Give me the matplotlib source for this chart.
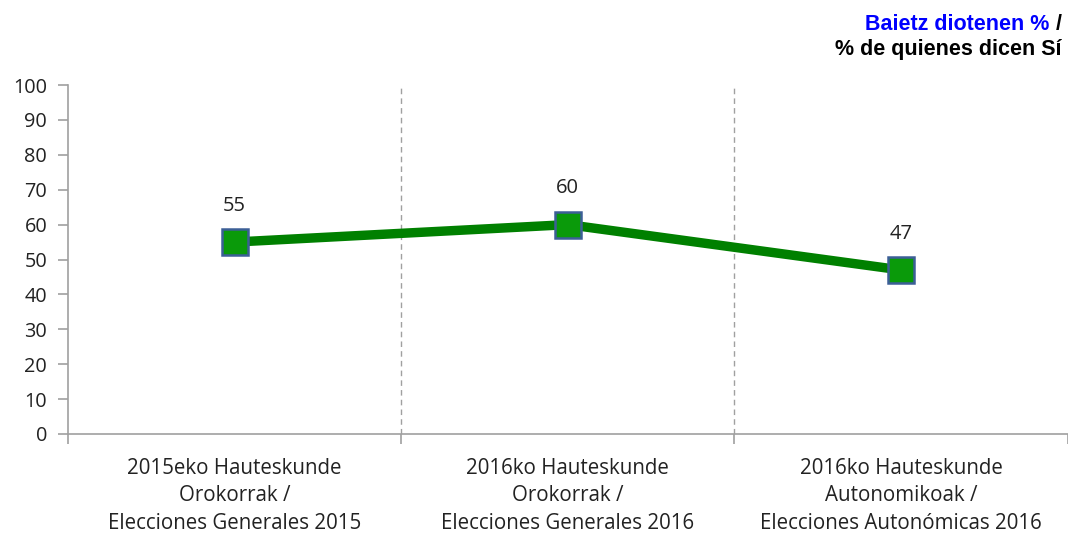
import numpy as np
import matplotlib.pyplot as plt

categories = ['2015eko Hauteskunde\nOrokorrak /\nElecciones Generales 2015',
              '2016ko Hauteskunde\nOrokorrak /\nElecciones Generales 2016',
              '2016ko Hauteskunde\nAutonomikoak /\nElecciones Autonómicas 2016']
values = [55, 60, 47]
yticks = [0, 10, 20, 30, 40, 50, 60, 70, 80, 90, 100]

fig = plt.figure(figsize=(10.68, 5.35), dpi=100)
ax = fig.add_axes([0.0637, 0.1888, 0.936, 0.6523])

x = np.arange(1, len(values) + 1)
ax.plot(x, values, color='#008000', lw=6.8, zorder=3, solid_capstyle='butt')
ax.plot(x, values, ls='none', marker='s', ms=19, mfc='#0A9A0A', mec='#3C5F96', mew=1.8, zorder=4)
for xi, v in zip(x, values):
    ax.annotate(str(v), (xi, v), xytext=(0, 19), textcoords='offset points',
                ha='center', va='bottom', fontsize=14.5, family='Open Sans', color='#222222')

ax.set_xlim(0.5, len(values) + 0.5)
ax.set_ylim(0, 100)
ax.set_yticks(yticks)
ax.set_yticklabels([str(t) for t in yticks], fontsize=14.3, family='Open Sans', color='#222222')

# category boundaries as dashed lines and ticks
bounds = np.arange(0.5, len(values) + 1, 1)
ax.set_xticks(bounds, minor=False)
ax.set_xticklabels([''] * len(bounds))
ax.set_xticks(x, minor=True)
ax.set_xticklabels(categories, minor=True, fontsize=14.8, family='Open Sans', color='#222222',
                   linespacing=1.42)
ax.tick_params(axis='x', which='minor', length=0, pad=17)
ax.tick_params(axis='x', which='major', length=7, color='#A0A0A0', width=1.2)
ax.tick_params(axis='y', length=7, color='#A0A0A0', width=1.2, pad=8)
for b in bounds[1:-1]:
    ax.axvline(b, color='#A0A0A0', lw=1, ls=(0, (4, 3)), zorder=1)

for s in ['top', 'right']:
    ax.spines[s].set_visible(False)
ax.spines['left'].set_color('#A0A0A0')
ax.spines['bottom'].set_color('#A0A0A0')
ax.spines['left'].set_linewidth(1.2)
ax.spines['bottom'].set_linewidth(1.2)

fig.text(0.994, 0.944, 'Baietz diotenen %', color='#0000FF', fontsize=15.5, fontweight='bold',
         family='Liberation Sans', ha='right', va='baseline')
t = fig.text(0.994, 0.944, ' /', color='black', fontsize=15.5, fontweight='bold',
             family='Liberation Sans', ha='right', va='baseline')
fig.canvas.draw()
w = t.get_window_extent().width / fig.bbox.width
fig.texts[0].set_x(0.994 - w)
fig.text(0.994, 0.897, '% de quienes dicen Sí', color='black', fontsize=15.5, fontweight='bold',
         family='Liberation Sans', ha='right', va='baseline')

fig.savefig('out.png', dpi=100)
